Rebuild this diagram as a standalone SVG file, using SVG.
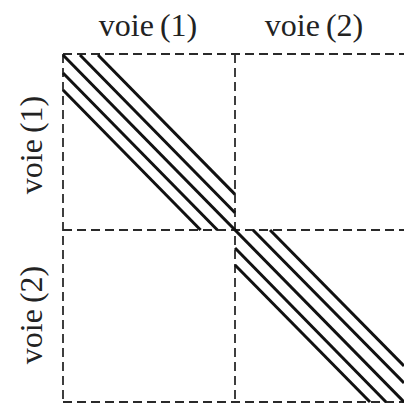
<svg xmlns="http://www.w3.org/2000/svg" width="404" height="405" viewBox="0 0 404 405">
<style>
.lbl{font-family:"Liberation Serif","Times New Roman",serif;font-size:32px;fill:#222;text-anchor:middle;word-spacing:-2px}
.grid{stroke:#2a2a2a;stroke-width:1.8;stroke-dasharray:9 5;fill:none}
.tr{stroke:#111;stroke-width:3;fill:none;stroke-linecap:butt}
</style>
<rect width="404" height="405" fill="#fff"/>
<g id="labels">
<text id="top1" class="lbl" x="148" y="36">voie (1)</text>
<text id="top2" class="lbl" x="314" y="36">voie (2)</text>
<text id="left1" class="lbl" transform="translate(42,145) rotate(-90)">voie (1)</text>
<text id="left2" class="lbl" transform="translate(42,315) rotate(-90)">voie (2)</text>
</g>
<g id="grid">
<line class="grid" x1="63" y1="54" x2="404" y2="54"/>
<line class="grid" x1="63" y1="230" x2="404" y2="230"/>
<line class="grid" x1="63" y1="402" x2="404" y2="402"/>
<line class="grid" x1="63" y1="54" x2="63" y2="402"/>
<line class="grid" x1="235" y1="54" x2="235" y2="402"/>
</g>
<g id="connectors">
<line class="tr" x1="63" y1="55" x2="404" y2="402"/>
<line class="tr" x1="80" y1="55" x2="235" y2="212.7"/>
<line class="tr" x1="98" y1="55" x2="235" y2="194.4"/>
<line class="tr" x1="63" y1="73" x2="217.4" y2="230"/>
<line class="tr" x1="63" y1="90" x2="200.6" y2="230"/>
<line class="tr" x1="253" y1="230" x2="404" y2="383"/>
<line class="tr" x1="270" y1="230" x2="404" y2="366"/>
<line class="tr" x1="235" y1="248" x2="386" y2="402"/>
<line class="tr" x1="235" y1="265" x2="370" y2="402"/>
</g>
</svg>
